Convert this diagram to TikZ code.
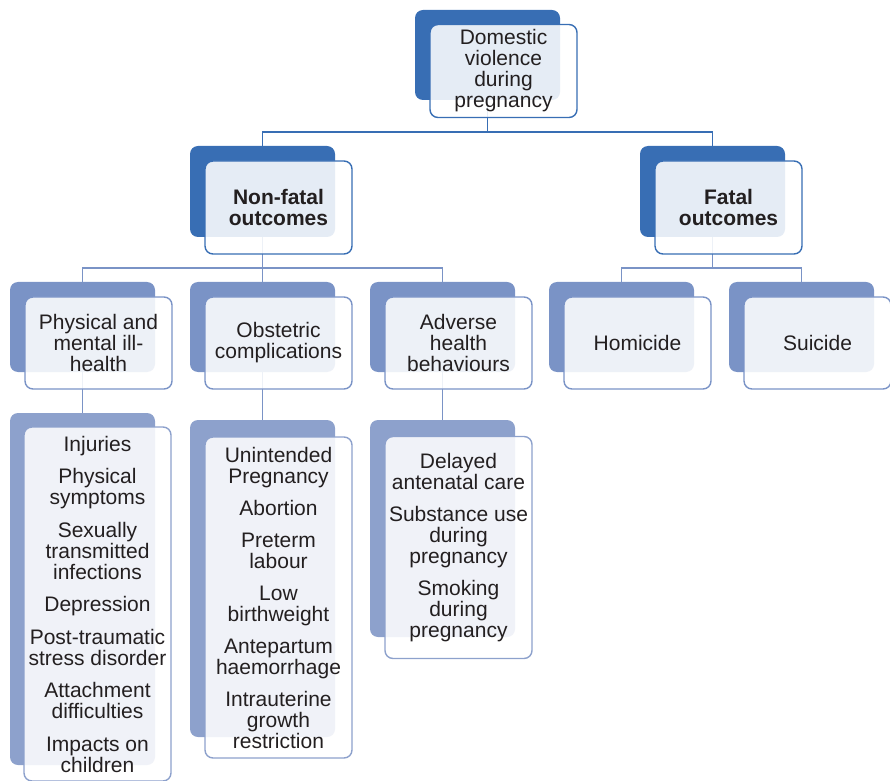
\documentclass[tikz,border=0pt]{standalone}
\usepackage{fontspec}
\setmainfont{Liberation Sans}
\usepackage{tikz}
\usetikzlibrary{positioning,calc}
\definecolor{deepblue}{RGB}{56,110,180}
\definecolor{midblue}{RGB}{122,147,198}
\definecolor{paleblue}{RGB}{141,161,204}
\definecolor{inktext}{RGB}{35,31,32}

\begin{document}
\begin{tikzpicture}[x=1pt, y=1pt,
        back/.style={rectangle, rounded corners=8pt, fill=#1,
                     minimum width=145pt, inner sep=0pt},
        front/.style={rectangle, rounded corners=8pt, draw=#1,
                      line width=1.4pt, fill=white, fill opacity=0.87,
                      text opacity=1, minimum width=147pt, inner sep=0pt,
                      align=center, text=inktext,
                      font=\fontsize{21}{21}\selectfont},
        conn/.style={line width=1.6pt, draw=#1}]

        \useasboundingbox (0,0) rectangle (890,780);

        % back cards
        \node[back=deepblue, minimum height=90pt] (rootb) at (487.5,725) {};
        \node[back=deepblue, minimum height=91pt] (nfb) at (262.5,588.5) {};
        \node[back=deepblue, minimum height=91pt] (fatb) at (712.5,588.5) {};

        \node[back=midblue, minimum height=90pt] (phb) at (82.5,453) {};
        \node[back=midblue, minimum height=90pt] (obb) at (262.5,453) {};
        \node[back=midblue, minimum height=90pt] (adb) at (442.5,453) {};
        \node[back=midblue, minimum height=90pt] (homb) at (621.5,453) {};
        \node[back=midblue, minimum height=90pt] (suib) at (801.5,453) {};

        \node[back=paleblue, minimum height=352pt] (phlb) at (82.5,191) {};
        \node[back=paleblue, minimum height=317pt] (oblb) at (262.5,201.5) {};
        \node[back=paleblue, minimum height=217pt] (adlb) at (442.5,251.5) {};

        % connectors (drawn under the front cards)
        \draw[conn=deepblue] (rootb.south) -- ++(0,-32) coordinate (rootj)
            -| (nfb.north);
        \draw[conn=deepblue] (rootj) -| (fatb.north);
        \draw[conn=midblue] (nfb.south) -- ++(0,-31) coordinate (nfj)
            -| (phb.north);
        \draw[conn=midblue] (nfj) -| (obb.north);
        \draw[conn=midblue] (nfj) -| (adb.north);
        \draw[conn=midblue] (fatb.south) -- ++(0,-31) coordinate (fatj)
            -| (homb.north);
        \draw[conn=midblue] (fatj) -| (suib.north);
        \draw[conn=midblue] (phb.south) -- (phlb.north);
        \draw[conn=midblue] (obb.south) -- (oblb.north);
        \draw[conn=midblue] (adb.south) -- (adlb.north);

        % front cards
        \node[front=deepblue, minimum height=93pt] (root)
            at ($(rootb)+(16,-16)$) {Domestic\\violence\\during\\pregnancy};
        \node[front=deepblue, minimum height=93pt] (nf)
            at ($(nfb)+(16,-16)$) {\textbf{Non-fatal}\\\textbf{outcomes}};
        \node[front=deepblue, minimum height=93pt] (fat)
            at ($(fatb)+(16,-16)$) {\textbf{Fatal}\\\textbf{outcomes}};

        \node[front=midblue, minimum height=92pt] (ph)
            at ($(phb)+(16,-16)$) {Physical and\\mental ill-\\health};
        \node[front=midblue, minimum height=92pt] (ob)
            at ($(obb)+(16,-16)$) {Obstetric\\complications};
        \node[front=midblue, minimum height=92pt] (ad)
            at ($(adb)+(16,-16)$) {Adverse\\health\\behaviours};
        \node[front=midblue, minimum height=92pt] (hom)
            at ($(homb)+(16,-16)$) {Homicide};
        \node[front=midblue, minimum height=92pt] (sui)
            at ($(suib)+(16,-16)$) {Suicide};

        % lists
        \node[front=paleblue, minimum height=354pt] (phl)
            at ($(phlb)+(15,-15)$)
            {Injuries\\[11.5pt]Physical\\symptoms\\[11.5pt]Sexually\\transmitted\\infections\\[11.5pt]
             Depression\\[11.5pt]Post-traumatic\\stress disorder\\[11.5pt]Attachment\\difficulties\\[11.5pt]
             Impacts on\\children};
        \node[front=paleblue, minimum height=321pt] (obl)
            at ($(oblb)+(16,-19)$)
            {Unintended\\Pregnancy\\[11pt]Abortion\\[11pt]Preterm\\labour\\[11pt]Low\\birthweight\\[11pt]
             Antepartum\\haemorrhage\\[11pt]Intrauterine\\growth\\restriction};
        \node[front=paleblue, minimum height=222pt] (adl)
            at ($(adlb)+(16,-19)$)
            {Delayed\\antenatal care\\[11pt]Substance use\\during\\pregnancy\\[11pt]Smoking\\during\\pregnancy};

    \end{tikzpicture}
\end{document}
